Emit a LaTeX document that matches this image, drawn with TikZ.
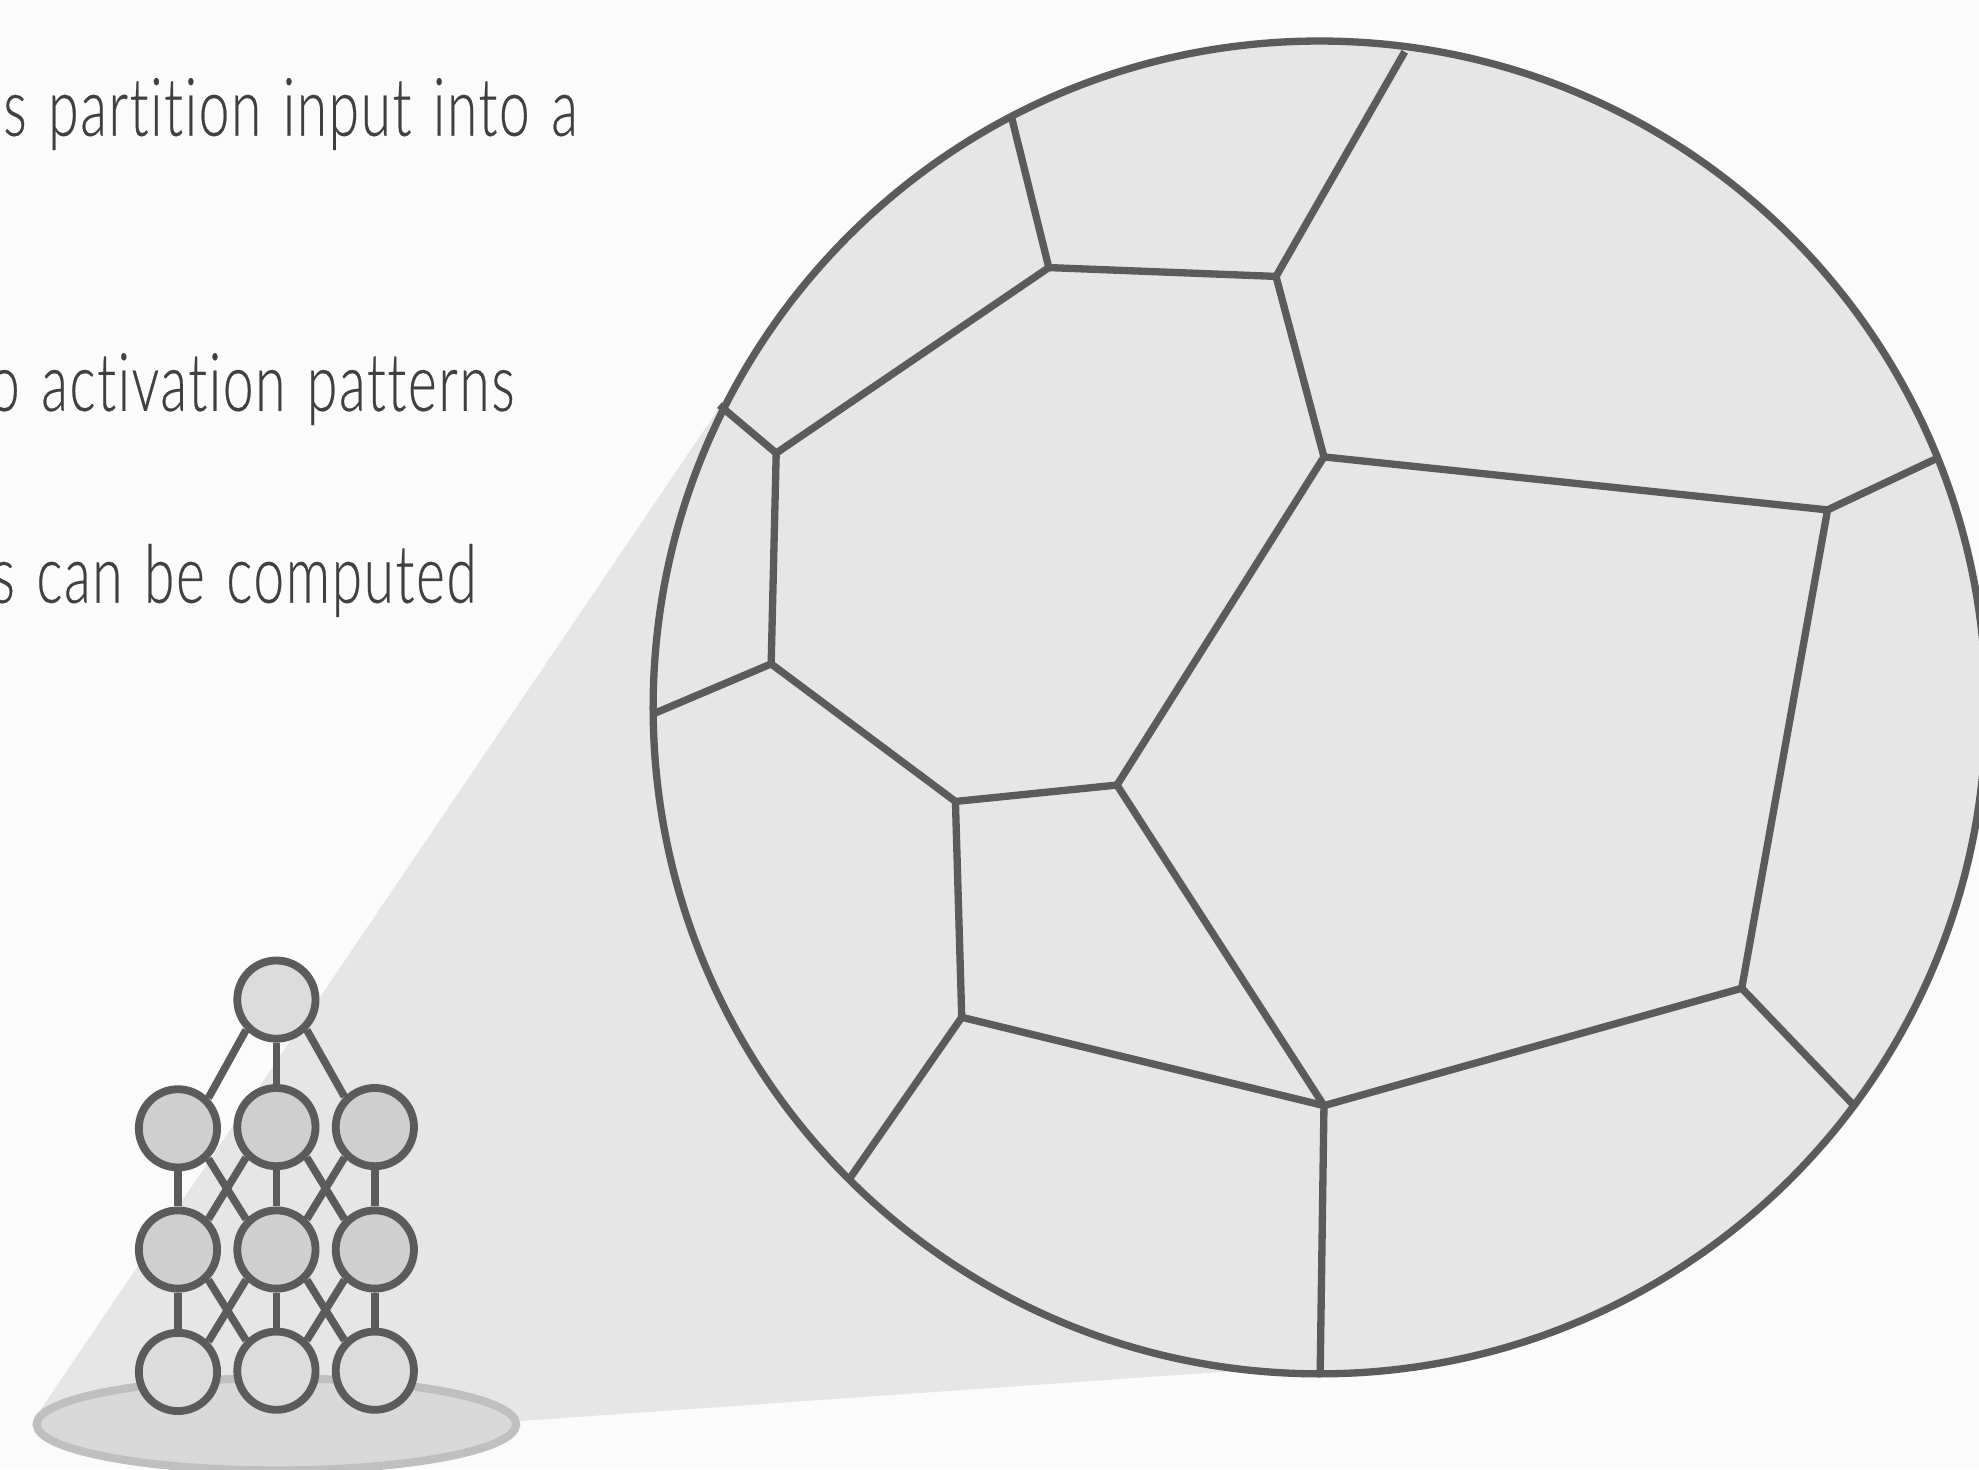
\documentclass[tikz,border=0pt]{standalone}
\usepackage{fontspec}
\setmainfont[UprightFont=* Light,FakeStretch=0.68,FakeBold=0.3,LetterSpace=2.1,WordSpace=1.3,Ligatures=NoCommon]{Lato}
\definecolor{bgc}{HTML}{FBFBFB}
\definecolor{cellc}{HTML}{E6E6E6}
\definecolor{linec}{HTML}{5B5B5B}
\definecolor{txtc}{HTML}{404040}
\definecolor{paler}{HTML}{DCDCDC}
\definecolor{darker}{HTML}{D0CFCF}
\tikzset{
  wall/.style={draw=linec,line width=2.9pt},
  link/.style={draw=linec,line width=3pt},
  unit/.style={circle,draw=linec,line width=3.1pt,inner sep=0pt,minimum size=31pt},
  unitpale/.style={unit,fill=paler},
  unitdark/.style={unit,fill=darker},
  caption/.style={anchor=base east,inner sep=0pt,text=txtc,font=\fontsize{32}{32}\selectfont}
}
\begin{document}
\begin{tikzpicture}[x=0.5pt,y=-0.5pt]
  \useasboundingbox (0,0) rectangle (1568,1164);
  \clip (0,0) rectangle (1568,1164);
  \fill[bgc] (0,0) rectangle (1568,1164);

  % captions, running off the left edge
  \node[caption] (t1) at (458,107.5) {as partition input into a};
  \node[caption] (t2) at (408,325.5) {to activation patterns};
  \node[caption] (t3) at (378,477.5) {s can be computed};

  % zoom cone from the input disc to the enlarged disc
  \fill[cellc] (26,1126) -- (572,320) -- (1045,560) -- (1010,1084) -- (410,1126) -- cycle;

  % input disc
  \draw[draw=black!25,fill=black!15,line width=3.2pt] (219,1128.5) ellipse [x radius=190,y radius=36.5];

  % enlarged input space with its linear regions
  \draw[wall,fill=cellc] (1045.5,560.5) circle [radius=528];
  \foreach \n/\x/\y in {A/570/321,B/615/359,C/831/212,D/801/91,E/1011/219,F/1113/41,
    G/1049/362,H/1448/404,I/1535/363,J/1380/783,K/1469/876,L/1049/876,M/1046/1087,
    N/762/806,O/673/934,P/757/635,Q/885/622,R/611/526,S/519/565}
    \coordinate (\n) at (\x,\y);
  \foreach \a/\b in {A/B,B/C,C/D,C/E,E/F,E/G,G/H,H/I,H/J,J/K,J/L,L/M,L/N,N/O,N/P,P/Q,P/R,Q/G,Q/L,R/S,R/B}
    \draw[wall] (\a) -- (\b);

  % small network
  \node[unitpale] (top) at (219,792) {};
  \node[unitdark] (a1) at (141,894) {};
  \node[unitdark] (a2) at (219,893) {};
  \node[unitdark] (a3) at (297,893) {};
  \node[unitdark] (b1) at (141,990) {};
  \node[unitdark] (b2) at (219,990) {};
  \node[unitdark] (b3) at (297,990) {};
  \node[unitpale] (c1) at (141,1087) {};
  \node[unitpale] (c2) at (219,1086) {};
  \node[unitpale] (c3) at (297,1086) {};
  \draw[link] (top.south west) -- (a1.north east);
  \draw[link] (top.south) -- (a2.north);
  \draw[link] (top.south east) -- (a3.north west);
  \foreach \u/\v/\w/\p/\q/\r in {a1/a2/a3/b1/b2/b3,b1/b2/b3/c1/c2/c3}{
    \draw[link] (\u.south) -- (\p.north);
    \draw[link] (\v.south) -- (\q.north);
    \draw[link] (\w.south) -- (\r.north);
    \draw[link] (\u.south east) -- (\q.north west);
    \draw[link] (\v.south west) -- (\p.north east);
    \draw[link] (\v.south east) -- (\r.north west);
    \draw[link] (\w.south west) -- (\q.north east);
  }
\end{tikzpicture}
\end{document}
